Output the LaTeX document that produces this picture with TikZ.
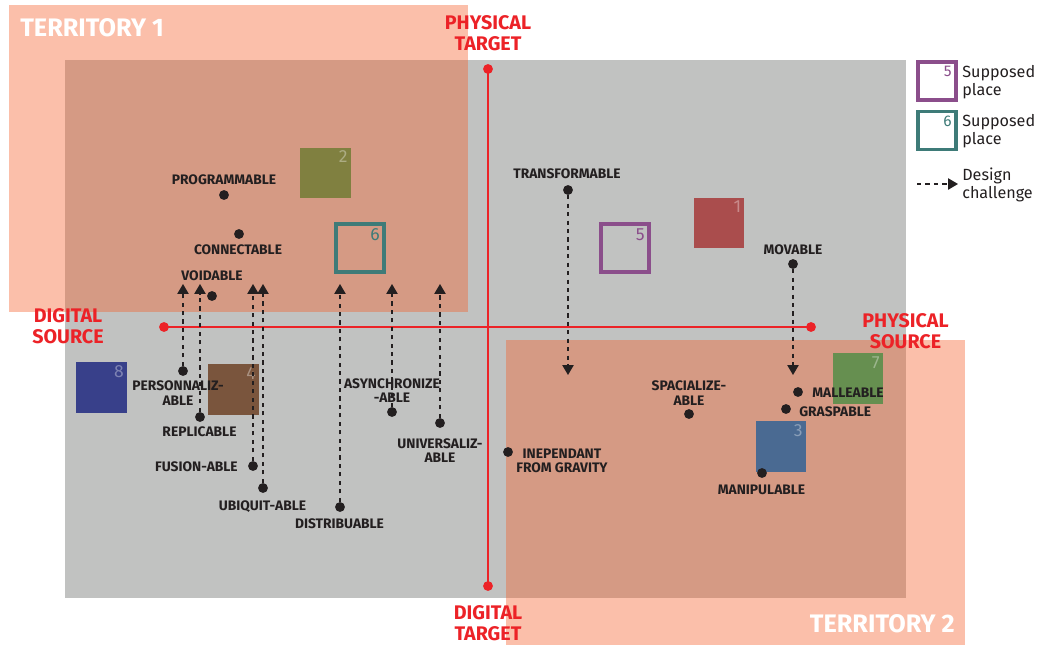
\documentclass[tikz,border=0pt]{standalone}
\usepackage{fontspec}
\setmainfont{Fira Sans}
\usepackage{tikz}
\usetikzlibrary{arrows.meta, positioning}
\definecolor{graybg}{HTML}{C1C2C1}
\definecolor{terrfill}{RGB}{245,95,42}
\definecolor{axisred}{HTML}{EC2227}
\definecolor{inkdark}{HTML}{231F20}
\definecolor{sqred}{HTML}{AA4D4D}
\definecolor{sqolive}{HTML}{808040}
\definecolor{sqblue}{HTML}{4A6A92}
\definecolor{sqbrown}{HTML}{7A553D}
\definecolor{sqgreen}{HTML}{668F50}
\definecolor{sqnavy}{HTML}{38408A}
\definecolor{placepurple}{HTML}{8B4E8B}
\definecolor{placeteal}{HTML}{3E7B78}
\tikzset{
  territory/.style={fill=terrfill, fill opacity=0.4, draw=none},
  axis/.style={draw=axisred, line width=1.4pt},
  axisdot/.style={circle, fill=axisred, inner sep=0pt, minimum size=7pt},
  axislabel/.style={
    text=axisred, font=\fontsize{14}{15}\selectfont\bfseries,
    align=center, inner sep=0pt
  },
  terrlabel/.style={text=white, font=\fontsize{18}{20}\selectfont\bfseries, inner sep=0pt},
  featdot/.style={circle, fill=inkdark, inner sep=0pt, minimum size=7pt},
  featlabel/.style={
    text=inkdark, font=\fontsize{9.8}{10.3}\selectfont\bfseries,
    align=center, inner sep=0pt
  },
  colorsq/.style={
    rectangle, fill=#1, draw=none, minimum size=1.25cm, inner sep=0pt,
    label={[anchor=north east, inner sep=2pt, text=#1!65!white,
            font=\fontsize{12.5}{14}\selectfont]north east:\sqnum}
  },
  placesq/.style={
    rectangle, draw=#1, minimum size=1.2cm, inner sep=0pt,
    label={[anchor=north east, inner sep=4pt, text=#1,
            font=\fontsize{12.5}{14}\selectfont]north east:\sqnum}
  },
  legendsq/.style={
    rectangle, draw=#1, fill=white, minimum size=0.95cm, inner sep=0pt,
    label={[anchor=north east, inner sep=4pt, text=#1,
            font=\fontsize{11}{13}\selectfont]north east:\sqnum}
  },
  legendtext/.style={
    text=inkdark, font=\fontsize{11.5}{12.8}\selectfont,
    align=left, inner sep=0pt, anchor=north west
  },
  challenge/.style={
    draw=inkdark, line width=0.9pt, dash pattern=on 3pt off 3pt,
    -{Triangle[width=8pt,length=7pt]}
  }
}
\newcommand{\sqnum}{}

\begin{document}
\begin{tikzpicture}[x=0.025cm, y=-0.025cm]
  \path[use as bounding box] (0,0) rectangle (1040,645);

  % ── Background and territories ────────────────────────────────────────
  \fill[graybg] (65,60) rectangle (906,598);
  \path[territory] (9,5) rectangle (468,312);
  \path[territory] (506,340) rectangle (965,645);
  \node[terrlabel, anchor=west] (terr1) at (20,28) {TERRITORY 1};
  \node[terrlabel, anchor=east] (terr2) at (955,624) {TERRITORY 2};

  % ── Places ────────────────────────────────────────────────────────────
  \renewcommand{\sqnum}{1}\node[colorsq=sqred]   (sq1) at (719,223) {};
  \renewcommand{\sqnum}{2}\node[colorsq=sqolive] (sq2) at (325.5,173) {};
  \renewcommand{\sqnum}{3}\node[colorsq=sqblue]  (sq3) at (780.5,446.5) {};
  \renewcommand{\sqnum}{4}\node[colorsq=sqbrown] (sq4) at (233.5,389.5) {};
  \renewcommand{\sqnum}{5}\node[placesq=placepurple, line width=2.3pt] (sq5) at (625,248) {};
  \renewcommand{\sqnum}{6}\node[placesq=placeteal, line width=2.3pt]   (sq6) at (360,248) {};
  \renewcommand{\sqnum}{7}\node[colorsq=sqgreen] (sq7) at (857.5,378.5) {};
  \renewcommand{\sqnum}{8}\node[colorsq=sqnavy]  (sq8) at (101.5,387.5) {};

  % ── Axes ──────────────────────────────────────────────────────────────
  \coordinate (dsrcpt) at (164,327);
  \coordinate (psrcpt) at (811,327);
  \coordinate (ptgtpt) at (488,69);
  \coordinate (dtgtpt) at (488,586);
  \draw[axis] (dsrcpt) -- (psrcpt);
  \draw[axis] (ptgtpt) -- (dtgtpt);
  \node[axisdot] (dsrc) at (dsrcpt) {};
  \node[axisdot] (psrc) at (psrcpt) {};
  \node[axisdot] (ptgt) at (ptgtpt) {};
  \node[axisdot] (dtgt) at (dtgtpt) {};
  \node[axislabel] (ptgtlbl) at (488,33.5)  {PHYSICAL\\TARGET};
  \node[axislabel] (dsrclbl) at (68,326.5)  {DIGITAL\\SOURCE};
  \node[axislabel] (psrclbl) at (905.5,331.5) {PHYSICAL\\SOURCE};
  \node[axislabel] (dtgtlbl) at (488,623) {DIGITAL\\TARGET};

  % ── Properties ────────────────────────────────────────────────────────
  \node[featdot] (prog)   at (224,195) {};
  \node[featdot] (conn)   at (239,234) {};
  \node[featdot] (void)   at (212,296) {};
  \node[featdot] (transf) at (568,190) {};
  \node[featdot] (mov)    at (793,264) {};
  \node[featdot] (perso)  at (183,371) {};
  \node[featdot] (repl)   at (200,417) {};
  \node[featdot] (fusion) at (253,466) {};
  \node[featdot] (ubiq)   at (263,488) {};
  \node[featdot] (distr)  at (340,507) {};
  \node[featdot] (async)  at (392,412) {};
  \node[featdot] (univ)   at (440,423) {};
  \node[featdot] (indep)  at (508,452) {};
  \node[featdot] (spac)   at (689,414) {};
  \node[featdot] (mall)   at (798,392) {};
  \node[featdot] (grasp)  at (786,409) {};
  \node[featdot] (manip)  at (762,473) {};

  \node[featlabel] (proglbl)   at (224,180)   {PROGRAMMABLE};
  \node[featlabel] (connlbl)   at (238,250)   {CONNECTABLE};
  \node[featlabel] (voidlbl)   at (212,276)   {VOIDABLE};
  \node[featlabel] (transflbl) at (567,174)   {TRANSFORMABLE};
  \node[featlabel] (movlbl)    at (793,250)   {MOVABLE};
  \node[featlabel] (persolbl)  at (178,393)   {PERSONNALIZ-\\ABLE};
  \node[featlabel] (repllbl)   at (199.5,432) {REPLICABLE};
  \node[featlabel, anchor=east] (fusionlbl) at (238,467) {FUSION-ABLE};
  \node[featlabel] (ubiqlbl)   at (262.5,507) {UBIQUIT-ABLE};
  \node[featlabel] (distrlbl)  at (339.5,524) {DISTRIBUABLE};
  \node[featlabel] (asynclbl)  at (392,390.5) {ASYNCHRONIZE\\-ABLE};
  \node[featlabel] (univlbl)   at (440,450.5) {UNIVERSALIZ-\\ABLE};
  \node[featlabel] (indeplbl)  at (562,461)   {INEPENDANT\\FROM GRAVITY};
  \node[featlabel] (spaclbl)   at (689,393)   {SPACIALIZE-\\ABLE};
  \node[featlabel, anchor=west] (malllbl)  at (812,393) {MALLEABLE};
  \node[featlabel, anchor=west] (grasplbl) at (799,412) {GRASPABLE};
  \node[featlabel] (maniplbl)  at (761.5,490) {MANIPULABLE};

  % ── Design challenges ─────────────────────────────────────────────────
  \coordinate (upline) at (0,284);
  \coordinate (downline) at (0,375);
  \foreach \d in {perso,repl,fusion,ubiq,distr,async,univ}
    \draw[challenge] (\d) -- (\d |- upline);
  \foreach \d in {transf,mov}
    \draw[challenge] (\d) -- (\d |- downline);

  % ── Legend ────────────────────────────────────────────────────────────
  \renewcommand{\sqnum}{5}\node[legendsq=placepurple, line width=2.3pt] (leg5) at (937,81) {};
  \renewcommand{\sqnum}{6}\node[legendsq=placeteal, line width=2.3pt]   (leg6) at (937,130.5) {};
  \node[legendtext] (leg5txt) at (962,65)  {Supposed\\place};
  \node[legendtext] (leg6txt) at (962,114) {Supposed\\place};
  \coordinate (legA) at (917,184);
  \coordinate (legB) at (958,184);
  \draw[challenge] (legA) -- (legB);
  \node[legendtext] (legarrtxt) at (962,168) {Design\\challenge};

\end{tikzpicture}
\end{document}
